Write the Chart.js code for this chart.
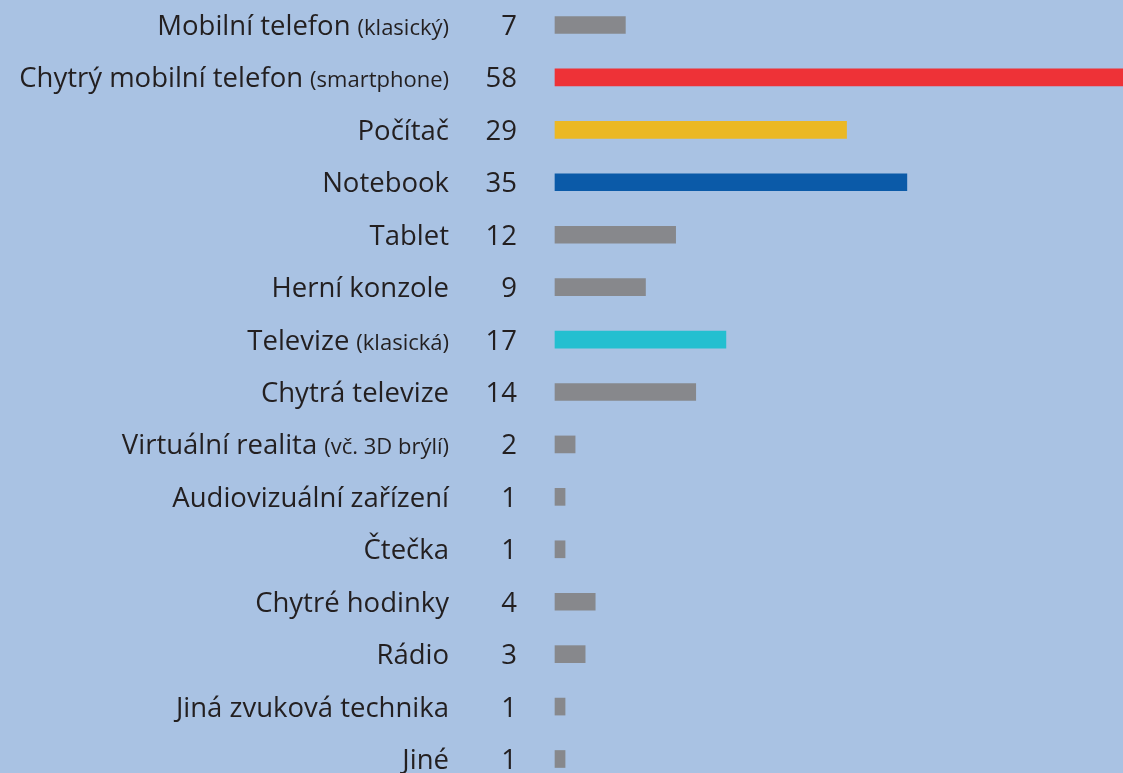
<!DOCTYPE html>
<html>
<head>
<meta charset="utf-8">
<script src="https://cdn.jsdelivr.net/npm/chart.js@4"></script>
<style>
  html, body { margin: 0; padding: 0; background: #a9c2e3; }
  #wrap { width: 1123px; height: 773px; position: relative; }
</style>
</head>
<body>
<div id="wrap"><canvas id="devicesChart"></canvas></div>
<script>
// data
const categories = [
  "Mobilní telefon", "Chytrý mobilní telefon", "Počítač", "Notebook", "Tablet",
  "Herní konzole", "Televize", "Chytrá televize", "Virtuální realita",
  "Audiovizuální zařízení", "Čtečka", "Chytré hodinky", "Rádio",
  "Jiná zvuková technika", "Jiné"
];
const notes = [
  "(klasický)", "(smartphone)", "", "", "", "", "(klasická)", "",
  "(vč. 3D brýlí)", "", "", "", "", "", ""
];
const counts = [7, 58, 29, 35, 12, 9, 17, 14, 2, 1, 1, 4, 3, 1, 1];
const barColors = [
  "#87888c", "#ee3237", "#ebb824", "#0b5aa8", "#87888c", "#87888c", "#24bfd0",
  "#87888c", "#87888c", "#87888c", "#87888c", "#87888c", "#87888c", "#87888c", "#87888c"
];

const textColor = "#231f20";
const fontFamily = "'Open Sans', sans-serif";

// draws the category names (with smaller notes) and the values left of the bars
const sideLabels = {
  id: "sideLabels",
  afterDatasetsDraw(chart) {
    const ctx = chart.ctx;
    const yScale = chart.scales.y;
    ctx.save();
    ctx.fillStyle = textColor;
    ctx.textAlign = "right";
    ctx.textBaseline = "alphabetic";
    categories.forEach((name, i) => {
      const y = yScale.getPixelForValue(i) + 10;
      ctx.font = "27.5px " + fontFamily;
      ctx.fillText(String(counts[i]), 517, y);
      let right = 449;
      if (notes[i]) {
        ctx.font = "22px " + fontFamily;
        ctx.fillText(notes[i], right, y);
        right -= ctx.measureText(notes[i]).width + 7;
      }
      ctx.font = "27.5px " + fontFamily;
      ctx.fillText(name, right, y);
    });
    ctx.restore();
  }
};

const ctx = document.getElementById("devicesChart").getContext("2d");

new Chart(ctx, {
  type: "bar",
  data: {
    labels: categories,
    datasets: [{
      data: counts,
      backgroundColor: barColors,
      barThickness: 17,
      borderWidth: 0,
      clip: false
    }]
  },
  options: {
    indexAxis: "y",
    responsive: true,
    maintainAspectRatio: false,
    animation: false,
    layout: { padding: { left: 555, right: 0, top: 25, bottom: 14 } },
    scales: {
      x: { display: false, min: 0, max: 56.5 },
      y: { display: false, offset: false }
    },
    plugins: {
      legend: { display: false },
      tooltip: { enabled: false }
    }
  },
  plugins: [sideLabels]
});
</script>
</body>
</html>
